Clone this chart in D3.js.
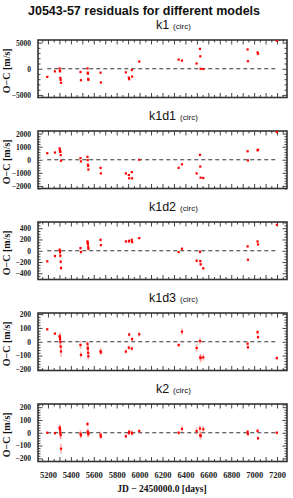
<!DOCTYPE html>
<html>
<head>
<meta charset="utf-8">
<script src="https://cdn.jsdelivr.net/npm/d3@7"></script>
<style>
  body { margin: 0; background: #fff; }
  svg { display: block; }
  .tick text { font-family: "Liberation Serif", serif; font-weight: bold; fill: #222; }
  .ylab .tick text { font-size: 7.5px; }
  .xlab .tick text { font-size: 8.5px; }
  .domain { display: none; }
  .tick line { stroke: #444; stroke-width: 1; }
</style>
</head>
<body>
<div id="chart"></div>
<script>
// JD - 2450000
const times = [5194, 5261,
  5302, 5304, 5306, 5308, 5311, 5314,
  5484, 5488,
  5545, 5547, 5549, 5551, 5553,
  5659, 5662,
  5880,
  5906, 5909,
  5932, 5935,
  5997,
  6341,
  6370,
  6498,
  6527, 6530, 6533,
  6556,
  6943, 6946,
  7030, 7034,
  7198];

const errors = [8, 10,
  20, 30, 35, 45, 30, 40,
  30, 25,
  20, 25, 30, 25, 25,
  25, 20,
  15,
  15, 15,
  15, 15,
  18,
  15,
  25,
  30,
  25, 25, 30,
  25,
  12, 12,
  18, 14,
  14];

const resK1 = [-1560, -500,
  60, -375, -500, -1750, -2125, -2690,
  -625, -2190,
  60, -750, -940, -1940, -2125,
  -750, -2625,
  -690,
  -1690, -2000,
  -250, -1500,
  1375,
  1750,
  1560,
  1000,
  3810, 2375, 0,
  -60,
  3690, 1440,
  3125, 2875,
  5375];

const resK1d1 = [500, 550,
  870, 720, 650, 600, 350, -75,
  125, -125,
  225, -25, -375, -475, -750,
  -620, -1045,
  -1045,
  -1170, -1420,
  -945, -1420,
  0,
  -620,
  -350,
  -1045,
  375, -520, -1370,
  -1395,
  650, -50,
  720, 770,
  2115];

const resK1d2 = [-188, -94,
  18, 0, -24, -88, -194, -306,
  47, -24,
  165, 141, 118, 71, 35,
  194, 100,
  165,
  165, 177,
  194, 153,
  224,
  -24,
  35,
  -177,
  -18, -183, -241,
  -312,
  77, -159,
  165, 112,
  460];

const resK1d3 = [90, 59,
  40, 35, 20, 0, -35, -70,
  -24, -95,
  -15, -45, -50, -80, -105,
  -69, -76,
  -71,
  -43, 52,
  -50, 19,
  54,
  -24,
  73,
  -45,
  5, -113, -118,
  -113,
  -14, -40,
  69, 33,
  -118];

const resK2 = [0, -3,
  40, 32, 20, 0, -18, -125,
  -8, -20,
  68, 8, 0, -5, -10,
  -15, -30,
  -28,
  -3, 8,
  0, -5,
  13,
  0,
  30,
  13,
  33, -18, -25,
  28,
  8, -10,
  15, -43,
  0];

const models = ["k1", "k1d1", "k1d2", "k1d3", "k2"];
const residuals = [resK1, resK1d1, resK1d2, resK1d3, resK2];
const yLimits = [5500, 2200, 510, 208, 225];
const yTickLabels = [
  [-5000, 0, 5000],
  [-2000, -1000, 0, 1000, 2000],
  [-400, -200, 0, 200, 400],
  [-200, -100, 0, 100, 200],
  [-200, -100, 0, 100, 200]
];
const yMinorStep = [1000, 200, 50, 20, 20];
const xTickLabels = [5200, 5400, 5600, 5800, 6000, 6200, 6400, 6600, 6800, 7000, 7200];

const width = 293, height = 498;
const left = 38, right = 287;
const panelTop = 40, panelStep = 91, panelH = 57.5;

const svg = d3.select("#chart").append("svg")
    .attr("width", width)
    .attr("height", height);

svg.append("text")
    .attr("x", 144)
    .attr("y", 15)
    .attr("text-anchor", "middle")
    .attr("font-family", "Liberation Sans, Arial, sans-serif")
    .attr("font-weight", "bold")
    .attr("font-size", 12.5)
    .attr("fill", "#111")
    .text("J0543-57 residuals for different models");

const x = d3.scaleLinear().domain([5113, 7287]).range([left, right]);
const xMajor = d3.range(5200, 7300, 100);
const xMinor = d3.range(5150, 7300, 50).filter(v => v % 100 !== 0);

function drawPanel(i) {
  const top = panelTop + i * panelStep;
  const bottom = top + panelH;
  const lim = yLimits[i];
  const y = d3.scaleLinear().domain([-lim, lim]).range([bottom, top]);
  const g = svg.append("g");
  const vals = residuals[i];

  // panel title
  const cx = (left + right) / 2;
  const t = g.append("text")
      .attr("x", cx)
      .attr("y", top - 11)
      .attr("text-anchor", "middle")
      .attr("font-family", "Liberation Sans, Arial, sans-serif")
      .attr("font-size", 12.5)
      .attr("fill", "#111")
      .text(models[i]);
  const tw = t.node().getComputedTextLength();
  g.append("text")
      .attr("x", cx + tw / 2 + 4)
      .attr("y", top - 11)
      .attr("font-family", "Liberation Sans, Arial, sans-serif")
      .attr("font-size", 8)
      .attr("fill", "#111")
      .text("(circ)");

  // ticks, all pointing inwards
  const yMinor = d3.range(-lim - (-lim % yMinorStep[i]), lim, yMinorStep[i])
      .filter(v => !yTickLabels[i].includes(v) && Math.abs(v) <= lim);
  const last = i === models.length - 1;

  g.append("g").attr("class", "xlab").attr("transform", `translate(0,${bottom})`)
      .call(d3.axisBottom(x).tickValues(xMajor).tickSize(-4.5).tickPadding(10)
        .tickFormat(d => last && xTickLabels.includes(d) ? d : ""));
  g.append("g").attr("transform", `translate(0,${bottom})`)
      .call(d3.axisBottom(x).tickValues(xMinor).tickSize(-2.5).tickFormat(""));
  g.append("g").attr("transform", `translate(0,${top})`)
      .call(d3.axisTop(x).tickValues(xMajor).tickSize(-4.5).tickFormat(""));
  g.append("g").attr("transform", `translate(0,${top})`)
      .call(d3.axisTop(x).tickValues(xMinor).tickSize(-2.5).tickFormat(""));

  g.append("g").attr("class", "ylab").attr("transform", `translate(${left},0)`)
      .call(d3.axisLeft(y).tickValues(yTickLabels[i]).tickSize(-4.5).tickPadding(7)
        .tickFormat(d => d3.format("")(d).replace("-", "\u2212")));
  g.append("g").attr("transform", `translate(${left},0)`)
      .call(d3.axisLeft(y).tickValues(yMinor).tickSize(-2.5).tickFormat(""));
  g.append("g").attr("transform", `translate(${right},0)`)
      .call(d3.axisRight(y).tickValues(yTickLabels[i]).tickSize(-4.5).tickFormat(""));
  g.append("g").attr("transform", `translate(${right},0)`)
      .call(d3.axisRight(y).tickValues(yMinor).tickSize(-2.5).tickFormat(""));

  // frame
  g.append("rect")
      .attr("x", left)
      .attr("y", top)
      .attr("width", right - left)
      .attr("height", panelH)
      .attr("fill", "none")
      .attr("stroke", "#333")
      .attr("stroke-width", 1.6);

  // zero line over the data span
  g.append("line")
      .attr("x1", x(d3.min(times)))
      .attr("x2", x(d3.max(times)))
      .attr("y1", y(0))
      .attr("y2", y(0))
      .attr("stroke", "#333")
      .attr("stroke-width", 1)
      .attr("stroke-dasharray", "4,3");

  const clip = "clip" + i;
  g.append("clipPath").attr("id", clip)
    .append("rect")
      .attr("x", left).attr("y", top)
      .attr("width", right - left).attr("height", panelH);

  const marks = g.append("g").attr("clip-path", `url(#${clip})`);

  marks.selectAll("line.err")
      .data(vals)
      .enter()
      .append("line")
      .attr("class", "err")
      .attr("x1", (d, j) => x(times[j]))
      .attr("x2", (d, j) => x(times[j]))
      .attr("y1", (d, j) => y(d - errors[j]))
      .attr("y2", (d, j) => y(d + errors[j]))
      .attr("stroke", "#ff6666")
      .attr("stroke-opacity", 0.45)
      .attr("stroke-width", 1.6);

  marks.selectAll("rect.pt")
      .data(vals)
      .enter()
      .append("rect")
      .attr("class", "pt")
      .attr("x", (d, j) => x(times[j]) - 1.1)
      .attr("y", d => y(d) - 1.1)
      .attr("width", 2.2)
      .attr("height", 2.2)
      .attr("fill", "#ff0000");

  // y label
  const cy = (top + bottom) / 2 + 2;
  g.append("text")
      .attr("transform", `translate(10,${cy}) rotate(-90)`)
      .attr("text-anchor", "middle")
      .attr("font-family", "Liberation Serif, serif")
      .attr("font-weight", "bold")
      .attr("font-size", 10)
      .attr("fill", "#111")
      .text("O\u2212C [m/s]");
}

models.forEach((m, i) => drawPanel(i));

svg.append("text")
    .attr("x", 162)
    .attr("y", 492)
    .attr("text-anchor", "middle")
    .attr("font-family", "Liberation Serif, serif")
    .attr("font-weight", "bold")
    .attr("font-size", 9.5)
    .attr("fill", "#111")
    .text("JD \u2212 2450000.0 [days]");
</script>
</body>
</html>
